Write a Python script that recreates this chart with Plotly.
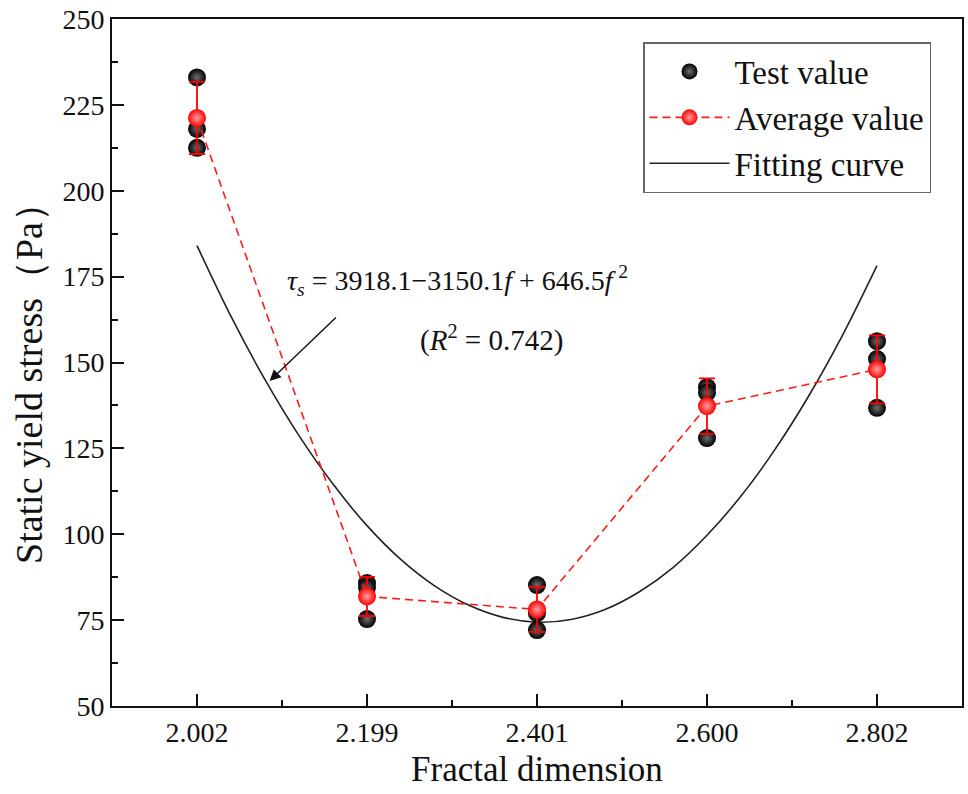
import plotly.graph_objects as go

# ---- data ----
categories = ["2.002", "2.199", "2.401", "2.600", "2.802"]
cat_pos = [0, 1, 2, 3, 4]
test_values = [
    [233.0, 218.0, 212.5],
    [85.8, 84.5, 75.3],
    [85.2, 77.0, 72.1],
    [142.8, 141.2, 128.0],
    [156.2, 151.0, 136.8],
]
average_values = [221.2, 81.9, 78.1, 137.3, 148.0]
average_sd = [10.5, 5.7, 6.5, 8.1, 9.9]
# fitting curve (x in category-index units)
curve_pos = [0.0, 0.2, 0.4, 0.6, 0.8, 1.0, 1.2, 1.4, 1.6, 1.8, 2.0,
             2.2, 2.4, 2.6, 2.8, 3.0, 3.2, 3.4, 3.6, 3.8, 4.0]
curve_vals = [184.0, 163.4, 145.0, 128.7, 114.6, 102.5, 92.6, 84.9, 79.3, 75.8, 74.4,
              75.2, 78.1, 83.2, 90.3, 99.7, 111.1, 124.7, 140.4, 158.2, 178.2]

y_ticks = [50, 75, 100, 125, 150, 175, 200, 225, 250]

FONT = "Liberation Serif"

# body margin is removed by a post script: figure origin at (0, 0)
W, H = 968, 794
L, R, T, B = 112, 6, 19, 88
PW, PH = W - L - R, H - T - B


def px(xw):
    return (xw - L) / PW


def py(yw):
    return (H - B - yw) / PH


tx, ty = [], []
for p, vals in zip(cat_pos, test_values):
    for v in vals:
        tx.append(p)
        ty.append(v)

fig = go.Figure()

fig.add_trace(go.Scatter(
    x=curve_pos, y=curve_vals, mode="lines", name="Fitting curve",
    line=dict(color="#222222", width=1.6, shape="spline", smoothing=0.8),
    legendrank=3,
))

fig.add_trace(go.Scatter(
    x=tx, y=ty, mode="markers", name="Test value",
    marker=dict(size=18, color="#000000",
                gradient=dict(type="radial", color="#6f6f6f"),
                line=dict(width=0)),
    legendrank=1,
))

fig.add_trace(go.Scatter(
    x=cat_pos, y=average_values, mode="lines+markers", name="Average value",
    line=dict(color="#ff1a1a", width=1.6, dash="8px,5px"),
    marker=dict(size=18, color="#ff0000",
                gradient=dict(type="radial", color="#ffa0a0"),
                line=dict(width=0)),
    error_y=dict(type="data", array=average_sd, visible=True,
                 color="#ff0000", thickness=1.8, width=8),
    legendrank=2,
))

fig.add_annotation(
    x=0.427, y=144.6, xref="x", yref="y",
    ax=0.826, ay=163.5, axref="x", ayref="y",
    text="", showarrow=True, arrowhead=2, arrowsize=1.6, arrowwidth=1.4,
    arrowcolor="#111111",
)
fig.add_annotation(
    x=px(285), y=py(280), xref="paper", yref="paper",
    xanchor="left", yanchor="middle", showarrow=False,
    text="<i>τ</i><sub><i>s</i></sub> = 3918.1\u22123150.1<i>f</i> + 646.5<i>f</i>\u2009<sup>2</sup>",
    font=dict(family=FONT, size=28, color="#111111"),
)
fig.add_annotation(
    x=px(491), y=py(338), xref="paper", yref="paper",
    xanchor="center", yanchor="middle", showarrow=False,
    text="(<i>R</i><sup>2</sup> = 0.742)",
    font=dict(family=FONT, size=29, color="#111111"),
)
# y-axis title
fig.add_annotation(
    x=px(29), y=py(374), xref="paper", yref="paper",
    xanchor="center", yanchor="middle", showarrow=False, textangle=-90,
    text="Static yield stress\uff08Pa\uff09",
    font=dict(family=FONT, size=38, color="#111111"),
)

fig.update_layout(
    width=W, height=H,
    margin=dict(l=L, r=R, t=T, b=B, autoexpand=False),
    paper_bgcolor="white", plot_bgcolor="white",
    font=dict(family=FONT, size=28, color="#111111"),
    showlegend=True,
    legend=dict(
        x=px(643), y=py(42), xanchor="left", yanchor="top",
        bgcolor="white", bordercolor="#666666", borderwidth=1.5,
        font=dict(family=FONT, size=33, color="#111111"),
        itemwidth=80, tracegroupgap=0,
    ),
    xaxis=dict(
        range=[-0.5, 4.5], tickmode="array", tickvals=cat_pos, ticktext=categories,
        ticks="inside", ticklen=12, tickwidth=2, tickcolor="#111111",
        minor=dict(ticks="inside", ticklen=6, tickwidth=2, tickcolor="#111111",
                   tick0=0.5, dtick=1),
        showline=True, linecolor="#111111", linewidth=2, mirror=True,
        showgrid=False, zeroline=False, automargin=False,
        ticklabeloverflow="allow",
        title=dict(text="Fractal dimension", font=dict(family=FONT, size=35), standoff=10),
        tickfont=dict(family=FONT, size=28),
    ),
    yaxis=dict(
        range=[50, 250], tickmode="array", tickvals=y_ticks,
        ticks="inside", ticklen=12, tickwidth=2, tickcolor="#111111",
        minor=dict(ticks="inside", ticklen=6, tickwidth=2, tickcolor="#111111",
                   tick0=50, dtick=12.5),
        showline=True, linecolor="#111111", linewidth=2, mirror=True,
        showgrid=False, zeroline=False, automargin=False,
        ticklabeloverflow="allow",
        tickfont=dict(family=FONT, size=28),
    ),
)

fig.write_html("out.html", config={"displayModeBar": False},
               post_script="document.body.style.margin='0px';")
